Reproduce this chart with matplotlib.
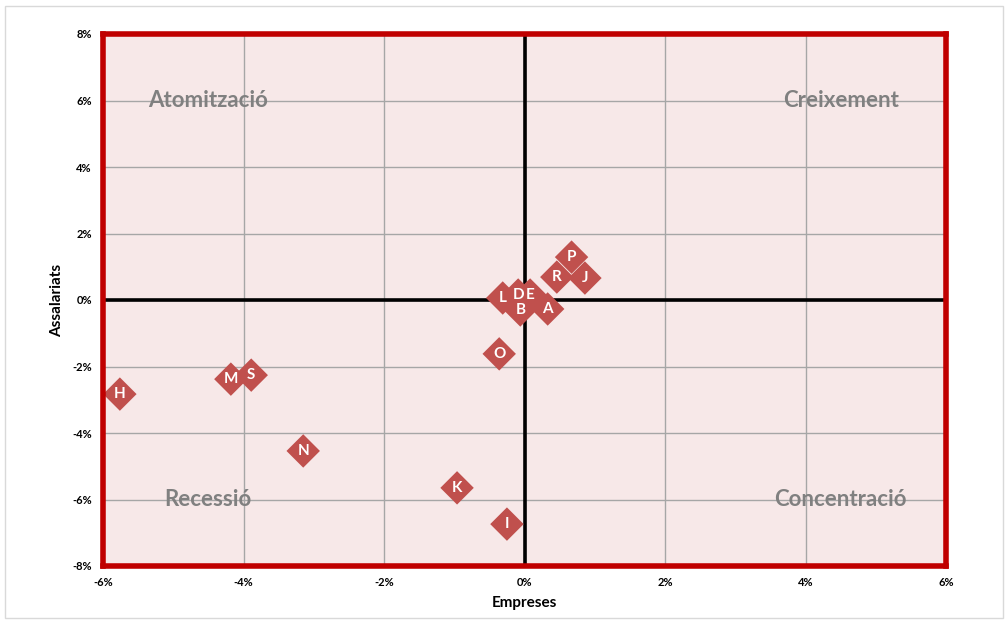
import matplotlib
matplotlib.use("Agg")
import matplotlib.pyplot as plt
from matplotlib.ticker import FuncFormatter, MultipleLocator

labels = ["H", "M", "S", "N", "K", "I", "O", "L", "D", "E", "B", "A", "R", "P", "J"]
empreses = [-5.76, -4.18, -3.89, -3.15, -0.96, -0.25, -0.36, -0.31, -0.09, 0.08, -0.06, 0.33, 0.46, 0.67, 0.86]
assalariats = [-2.83, -2.38, -2.26, -4.54, -5.65, -6.74, -1.62, 0.06, 0.15, 0.15, -0.30, -0.27, 0.69, 1.29, 0.66]

quadrants = ["Atomització", "Creixement", "Recessió", "Concentració"]
quad_x = [-4.5, 4.5, -4.5, 4.5]
quad_y = [6, 6, -6, -6]

plt.rcParams['font.family'] = ['Lato', 'DejaVu Sans']

fig = plt.figure(figsize=(10.08, 6.21), dpi=100)
fig.patch.set_facecolor('white')
ax = fig.add_axes([103/1008, 1 - 566/621, (946-103)/1008, (566-34)/621])
ax.set_facecolor('#F7E8E8')

ax.set_xlim(-6, 6)
ax.set_ylim(-8, 8)
ax.xaxis.set_major_locator(MultipleLocator(2))
ax.yaxis.set_major_locator(MultipleLocator(2))
fmt = FuncFormatter(lambda v, p: f"{v:.0f}%")
ax.xaxis.set_major_formatter(fmt)
ax.yaxis.set_major_formatter(fmt)
ax.grid(True, color='#A6A6A6', linewidth=1)
ax.set_axisbelow(True)
ax.tick_params(length=0, labelsize=8, pad=8)
for lab in ax.get_xticklabels() + ax.get_yticklabels():
    lab.set_fontweight('bold')

ax.axhline(0, color='black', linewidth=2.6, zorder=2)
ax.axvline(0, color='black', linewidth=2.6, zorder=2)

for s in ax.spines.values():
    s.set_color('#C00000')
    s.set_linewidth(4)
    s.set_zorder(5)

ax.scatter(empreses, assalariats, marker='D', s=290, color='#C0504D', edgecolors='none', zorder=3)
for l, x, y in zip(labels, empreses, assalariats):
    ax.text(x, y, l, color='white', fontsize=11, fontweight='bold', ha='center', va='center', zorder=4)

for q, x, y in zip(quadrants, quad_x, quad_y):
    ax.text(x, y, q, color='#808080', fontsize=16, fontweight='bold', ha='center', va='center', zorder=4)

ax.set_xlabel('Empreses', fontsize=11, fontweight='bold', labelpad=6)
ax.set_ylabel('Assalariats', fontsize=11, fontweight='bold', labelpad=6)

border = plt.Rectangle((0.005, 0.005), 0.99, 0.985, transform=fig.transFigure, fill=False, edgecolor='#D9D9D9', linewidth=1)
fig.patches.append(border)

fig.savefig('out.png', dpi=100)
